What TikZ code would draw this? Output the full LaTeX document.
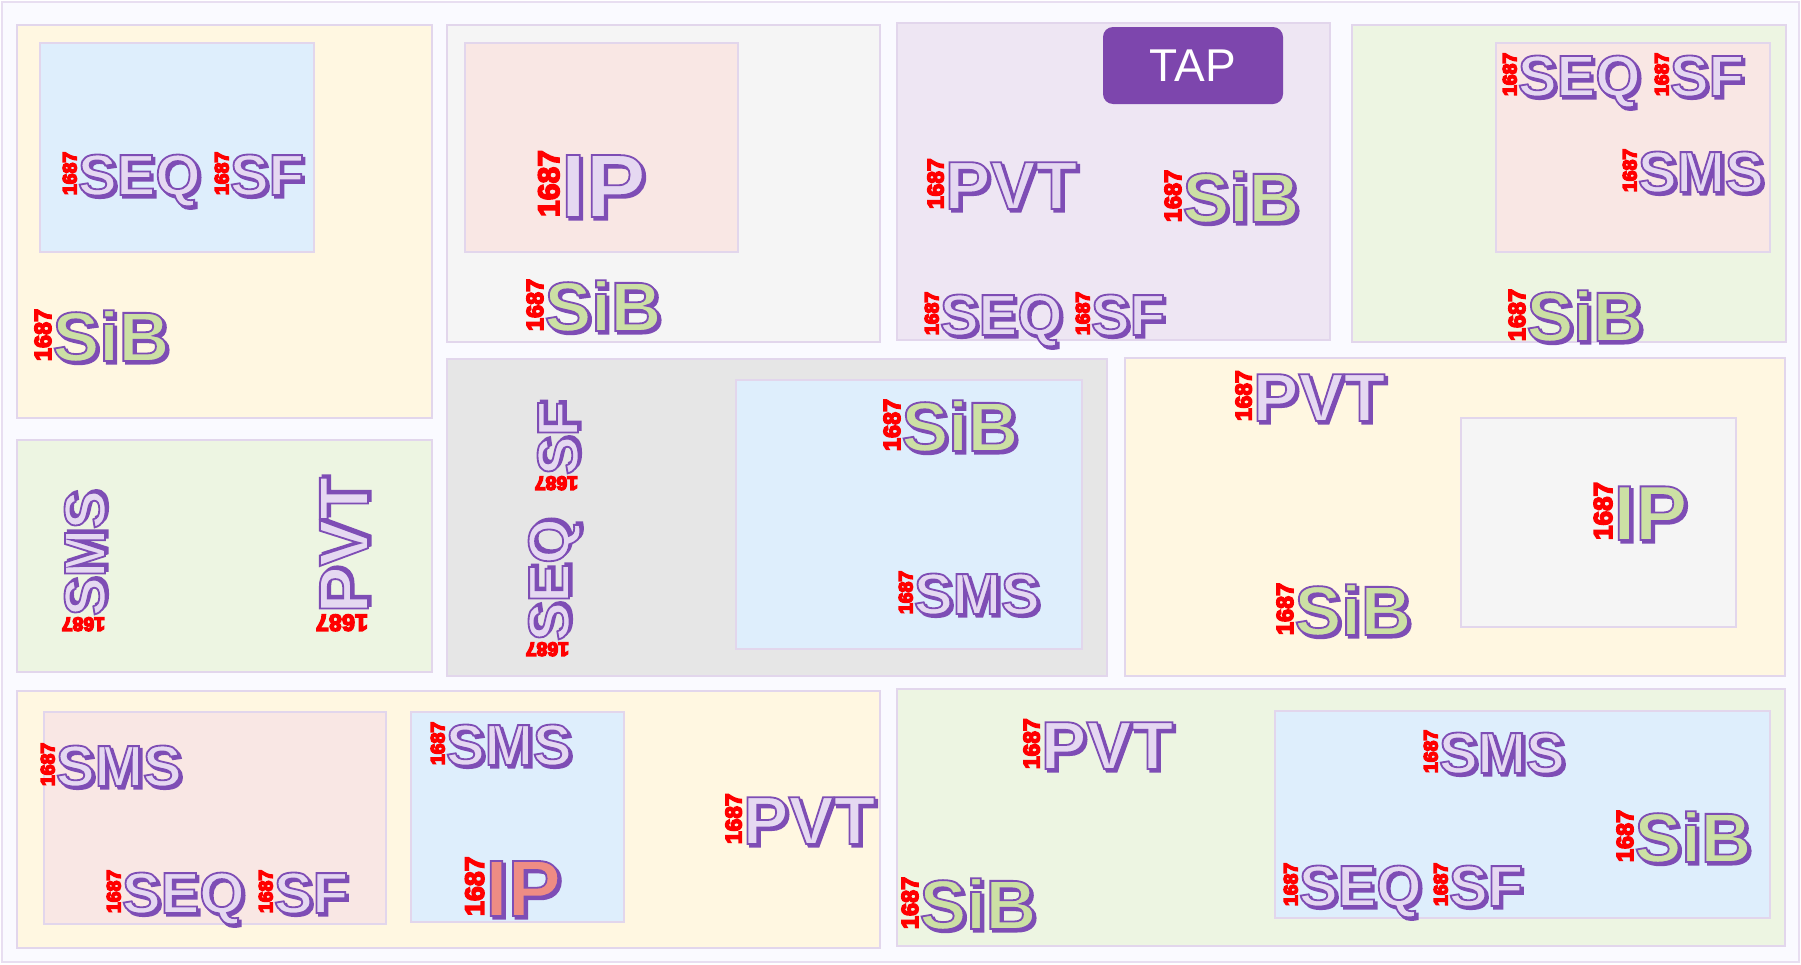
\documentclass[tikz,border=0pt]{standalone}
\usepackage{fontspec}
\setmainfont{Liberation Sans}
\usetikzlibrary{fit}
\definecolor{yel}{HTML}{FFF7E1}
\definecolor{blu}{HTML}{DEEEFC}
\definecolor{pnk}{HTML}{F9E7E4}
\definecolor{lgr}{HTML}{F5F5F5}
\definecolor{dgr}{HTML}{E6E6E6}
\definecolor{lav}{HTML}{EEE6F3}
\definecolor{grn}{HTML}{EDF5E2}
\definecolor{boxline}{HTML}{E2D6EC}
\definecolor{outerline}{HTML}{E8DEF1}
\definecolor{tapc}{HTML}{7D46AD}
\definecolor{wlav}{HTML}{E5D8F1}
\definecolor{wgrn}{HTML}{CCE0A4}
\definecolor{wsal}{HTML}{EE8C84}
\definecolor{shadc}{HTML}{7E4DB5}
\definecolor{tagred}{HTML}{FF0000}
\tikzset{
  box/.style={draw=boxline, line width=2pt, inner sep=0pt, outer sep=0pt},
  wd/.style={inner sep=0pt, outer sep=0pt},
  tg/.style={inner sep=0pt, outer sep=0pt, text=tagred},
  tapbox/.style={fill=tapc, rounded corners=10pt, inner sep=0pt, text=white,
    minimum width=180pt, minimum height=77pt, font=\fontsize{46pt}{46pt}\selectfont},
}
\newcommand\outl[2]{{\color{#1}\special{pdf:literal direct 2 Tr 1.8 w 0.494 0.302 0.710 RG}#2\special{pdf:literal direct 0 Tr}}}
\newcommand\tagtxt{{\special{pdf:literal direct 2 Tr 1.5 w}1687\special{pdf:literal direct 0 Tr}}}
% #1 name, #2 x, #3 y, #4 size, #5 word, #6 fill, #7 rotation, #8 left bearing (em)
\newcommand\lbl[8]{%
  \begin{scope}[shift={(#2,#3)},rotate=#7,transform shape]
    \pgfmathsetmacro\wx{-#8*#4}%
    \pgfmathsetmacro\sx{-#8*#4+2.6}%
    \pgfmathsetmacro\tx{-#8*#4-1.5}%
    \pgfmathsetmacro\tsz{#4*0.335}%
    \node[wd,anchor=base west,font=\fontsize{#4pt}{#4pt}\selectfont\bfseries] (#1s) at (\sx pt,-2.6pt) {\outl{shadc}{#5}};
    \node[wd,anchor=base west,font=\fontsize{#4pt}{#4pt}\selectfont\bfseries] (#1) at (\wx pt,0pt) {\outl{#6}{#5}};
    \node[tg,anchor=base west,rotate=90,font=\fontsize{\tsz pt}{\tsz pt}\selectfont\bfseries] (#1t) at (\tx pt,0pt) {\tagtxt};
  \end{scope}}
\begin{document}
\begin{tikzpicture}[x=1pt,y=-1pt]
\useasboundingbox (0,0) rectangle (1801,964);
\fill[white] (0,0) rectangle (1801,964);
\node[draw=outerline, line width=2pt, fill=white!98!blue, inner sep=0pt, fit={(2,2)(1799,962)}] (frame) {};
% boxes
\node[box, fill=yel, fit={(17,25)(432,418)}] (A) {};
\node[box, fill=blu, fit={(40,43)(314,252)}] (Ain) {};
\node[box, fill=lgr, fit={(447,25)(880,342)}] (B) {};
\node[box, fill=pnk, fit={(465,43)(738,252)}] (Bin) {};
\node[box, fill=lav, fit={(897,23)(1330,340)}] (C) {};
\node[tapbox] (tap) at (1193,65.5) {TAP};
\node[box, fill=grn, fit={(1352,25)(1786,342)}] (D) {};
\node[box, fill=pnk, fit={(1496,43)(1770,252)}] (Din) {};
\node[box, fill=grn, fit={(17,440)(432,672)}] (E) {};
\node[box, fill=dgr, fit={(447,359)(1107,676)}] (F) {};
\node[box, fill=blu, fit={(736,380)(1082,649)}] (Fin) {};
\node[box, fill=yel, fit={(1125,358)(1785,676)}] (H) {};
\node[box, fill=lgr, fit={(1461,418)(1736,627)}] (Hin) {};
\node[box, fill=yel, fit={(17,691)(880,948)}] (G) {};
\node[box, fill=pnk, fit={(44,712)(386,924)}] (Gin1) {};
\node[box, fill=blu, fit={(411,712)(624,922)}] (Gin2) {};
\node[box, fill=grn, fit={(897,689)(1785,946)}] (I) {};
\node[box, fill=blu, fit={(1275,711)(1770,918)}] (Iin) {};
% labels
\lbl{a1}{80}{195}{58}{SEQ}{wlav}{0}{0.035}
\lbl{a2}{232}{195}{58}{SF}{wlav}{0}{0.035}
\lbl{a3}{55}{361}{70}{SiB}{wgrn}{0}{0.035}
\lbl{b1}{567}{217}{90}{IP}{wlav}{0}{0.07}
\lbl{b2}{547}{331}{70}{SiB}{wgrn}{0}{0.035}
\lbl{c1}{950}{209}{68}{PVT}{wlav}{0}{0.074}
\lbl{c2}{1185}{222}{70}{SiB}{wgrn}{0}{0.035}
\lbl{c3}{942}{335}{58}{SEQ}{wlav}{0}{0.035}
\lbl{c4}{1093}{335}{58}{SF}{wlav}{0}{0.035}
\lbl{d1}{1520}{96}{58}{SEQ}{wlav}{0}{0.035}
\lbl{d2}{1672}{96}{58}{SF}{wlav}{0}{0.035}
\lbl{d3}{1640}{192}{58}{SMS}{wlav}{0}{0.035}
\lbl{d4}{1529}{341}{70}{SiB}{wgrn}{0}{0.035}
\lbl{e1}{105}{614}{58}{SMS}{wlav}{90}{0.035}
\lbl{e2}{368}{608}{70}{PVT}{wlav}{90}{0.074}
\lbl{f1}{578}{473}{58}{SF}{wlav}{90}{0.035}
\lbl{f2}{569}{639}{58}{SEQ}{wlav}{90}{0.035}
\lbl{f3}{904}{451}{70}{SiB}{wgrn}{0}{0.035}
\lbl{f4}{916}{614}{58}{SMS}{wlav}{0}{0.035}
\lbl{h1}{1258}{421}{68}{PVT}{wlav}{0}{0.074}
\lbl{h2}{1297}{635}{70}{SiB}{wgrn}{0}{0.035}
\lbl{h3}{1619}{540}{78}{IP}{wgrn}{0}{0.07}
\lbl{g1}{58}{786}{58}{SMS}{wlav}{0}{0.035}
\lbl{g2}{124}{913}{58}{SEQ}{wlav}{0}{0.035}
\lbl{g3}{276}{913}{58}{SF}{wlav}{0}{0.035}
\lbl{g4}{448}{765}{58}{SMS}{wlav}{0}{0.035}
\lbl{g5}{491}{916}{80}{IP}{wsal}{0}{0.07}
\lbl{g6}{748}{844}{68}{PVT}{wlav}{0}{0.074}
\lbl{i1}{1046}{769}{68}{PVT}{wlav}{0}{0.074}
\lbl{i2}{922}{929}{70}{SiB}{wgrn}{0}{0.035}
\lbl{i3}{1441}{773}{58}{SMS}{wlav}{0}{0.035}
\lbl{i4}{1637}{862}{70}{SiB}{wgrn}{0}{0.035}
\lbl{i5}{1301}{906}{58}{SEQ}{wlav}{0}{0.035}
\lbl{i6}{1451}{906}{58}{SF}{wlav}{0}{0.035}
\end{tikzpicture}
\end{document}
